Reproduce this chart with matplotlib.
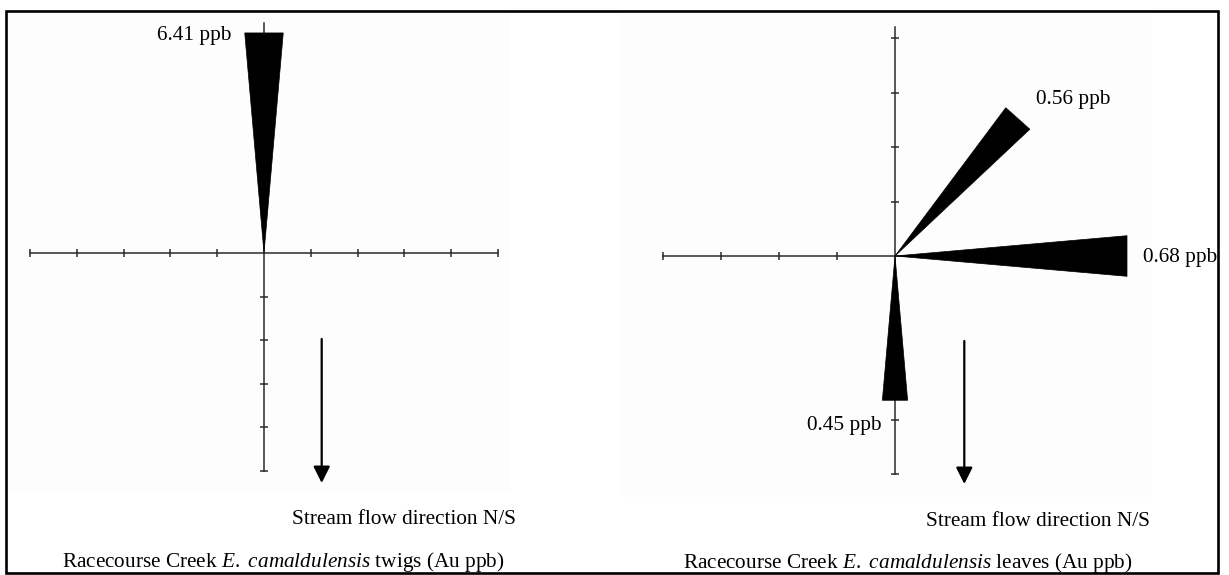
import numpy as np
import matplotlib
import matplotlib.pyplot as plt
from matplotlib.patches import Polygon, Rectangle

W, H = 1229, 575

# Au concentrations (ppb) and compass bearing of each sample direction
twig_values = [6.41]
twig_bearings = [0]
leaf_values = [0.56, 0.68, 0.45]
leaf_bearings = [40, 90, 180]

# ppb represented by one axis tick interval
twig_step = 1.27
leaf_step = 0.17

plt.rcParams["font.family"] = ["Liberation Serif", "DejaVu Serif"]
plt.rcParams["mathtext.fontset"] = "custom"
plt.rcParams["mathtext.rm"] = "Liberation Serif"
plt.rcParams["mathtext.it"] = "Liberation Serif:italic"

FS = 15.3
AXC = "#2a2a2a"


def fx(x):
  return x / W


def fy(y):
  return 1 - y / H


def make_axes(fig, cx, cy, ux, uy, half, step):
  left = cx - half * ux
  top = cy - half * uy
  ax = fig.add_axes([fx(left), fy(top + 2 * half * uy), 2 * half * ux / W, 2 * half * uy / H])
  ax.set_xlim(-half * step, half * step)
  ax.set_ylim(-half * step, half * step)
  ax.patch.set_alpha(0)
  for s in ["top", "right"]:
    ax.spines[s].set_visible(False)
  for s in ["left", "bottom"]:
    ax.spines[s].set_position(("data", 0))
    ax.spines[s].set_color(AXC)
    ax.spines[s].set_linewidth(1.1)
  ax.tick_params(direction="inout", length=5.5, width=1.1, colors=AXC,
                 labelbottom=False, labelleft=False)
  return ax


def wedge(ax, value, bearing, half_angle=5.0):
  a = np.deg2rad(90 - bearing)
  tip = ax.transData.transform((0, 0))
  end = ax.transData.transform((value * np.cos(a), value * np.sin(a)))
  d = end - tip
  L = np.hypot(d[0], d[1])
  n = np.array([-d[1], d[0]]) / L
  w = L * np.tan(np.deg2rad(half_angle))
  pts = ax.transData.inverted().transform([tip, end + n * w, end - n * w])
  ax.add_patch(Polygon(pts, closed=True, facecolor="black", edgecolor="black",
                       lw=0.5, zorder=3))


def flow_arrow(fig, x, y0, y1):
  fig.add_artist(matplotlib.patches.FancyArrowPatch(
    (fx(x), fy(y0)), (fx(x), fy(y1)), transform=fig.transFigure,
    arrowstyle="-|>,head_length=0.4,head_width=0.2", mutation_scale=25,
    lw=1.6, color="black", shrinkA=0, shrinkB=0))


def main():
  fig = plt.figure(figsize=(W / 100, H / 100), dpi=100)
  fig.patch.set_facecolor("white")

  # faint panel backgrounds and outer frame
  fig.add_artist(Rectangle((fx(6), fy(492)), 504 / W, 481 / H, transform=fig.transFigure,
                           facecolor="#fdfdfd", edgecolor="none", zorder=0))
  fig.add_artist(Rectangle((fx(620), fy(497)), 532 / W, 486 / H, transform=fig.transFigure,
                           facecolor="#fdfdfd", edgecolor="none", zorder=0))
  fig.add_artist(Rectangle((fx(6), fy(573)), 1212 / W, 562 / H, transform=fig.transFigure,
                           facecolor="none", edgecolor="black", lw=1.9, zorder=5))

  # twigs panel
  ax1 = make_axes(fig, 264, 253, 46.8, 43.6, 5.5, twig_step)
  ticks = [i * twig_step for i in range(-5, 6) if i != 0]
  ax1.set_xticks(ticks)
  ax1.set_yticks(ticks[:-1])
  ax1.spines["bottom"].set_bounds(-5 * twig_step, 5 * twig_step)
  ax1.spines["left"].set_bounds(-5 * twig_step, 5.28 * twig_step)
  for v, b in zip(twig_values, twig_bearings):
    wedge(ax1, v, b)

  # leaves panel
  ax2 = make_axes(fig, 895, 256, 58.0, 54.5, 4.5, leaf_step)
  ticks = [i * leaf_step for i in range(-4, 5) if i != 0]
  ax2.set_xticks(ticks[:-1])
  ax2.set_yticks(ticks)
  ax2.spines["bottom"].set_bounds(-4 * leaf_step, 3.9 * leaf_step)
  ax2.spines["left"].set_bounds(-4 * leaf_step, 4.2 * leaf_step)
  for v, b in zip(leaf_values, leaf_bearings):
    wedge(ax2, v, b)

  # value labels
  label_pos = [(157, 40)]
  for v, (x, y) in zip(twig_values, label_pos):
    fig.text(fx(x), fy(y), f"{v:.2f} ppb", fontsize=FS, va="baseline", ha="left")
  label_pos = [(1036, 104), (1143, 262), (807, 430)]
  for v, (x, y) in zip(leaf_values, label_pos):
    fig.text(fx(x), fy(y), f"{v:.2f} ppb", fontsize=FS, va="baseline", ha="left")

  # stream flow arrows
  flow_arrow(fig, 321.7, 339, 483)
  flow_arrow(fig, 964.3, 341, 484)
  fig.text(fx(292), fy(524), "Stream flow direction N/S", fontsize=FS, va="baseline")
  fig.text(fx(926), fy(526), "Stream flow direction N/S", fontsize=FS, va="baseline")

  # captions
  fig.text(fx(62), fy(567), r"Racecourse Creek $\mathit{E.}$ $\mathit{camaldulensis}$ twigs (Au ppb)",
           fontsize=FS, va="baseline")
  fig.text(fx(683), fy(568), r"Racecourse Creek $\mathit{E.}$ $\mathit{camaldulensis}$ leaves (Au ppb)",
           fontsize=FS, va="baseline")

  fig.savefig("out.png", dpi=100)


if __name__ == "__main__":
  main()
